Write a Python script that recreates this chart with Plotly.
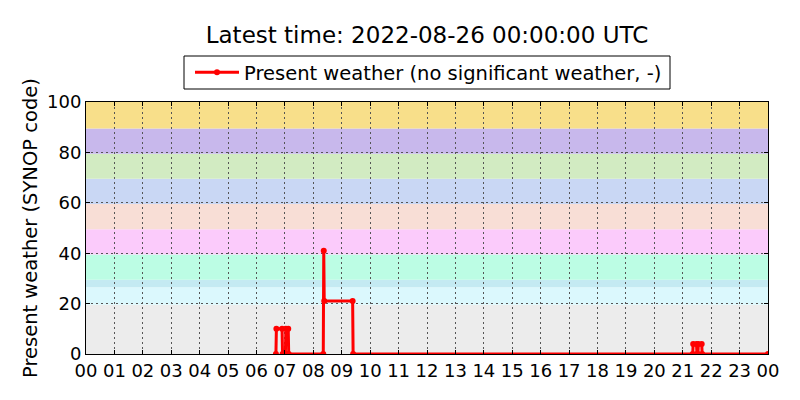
import plotly.graph_objects as go

# ---- data ----
times = [
    "2022-08-25 06:41", "2022-08-25 06:42", "2022-08-25 06:54", "2022-08-25 06:55",
    "2022-08-25 07:01", "2022-08-25 07:02", "2022-08-25 07:07", "2022-08-25 07:08",
    "2022-08-25 08:21", "2022-08-25 08:22", "2022-08-25 08:23", "2022-08-25 09:23",
    "2022-08-25 09:24", "2022-08-25 21:21", "2022-08-25 21:22", "2022-08-25 21:29",
    "2022-08-25 21:30", "2022-08-25 21:32", "2022-08-25 21:33", "2022-08-25 21:40",
    "2022-08-25 21:41", "2022-08-26 00:00",
]
present_weather = [
    0, 10, 10, 0,
    0, 10, 10, 0,
    0, 41, 21, 21,
    0, 0, 4, 4,
    0, 0, 4, 4,
    0, 0,
]

band_lower = [0, 19.5, 26.5, 29.5, 39.5, 49.5, 59.5, 69.5, 79.5, 89.5]
band_upper = [19.5, 26.5, 29.5, 39.5, 49.5, 59.5, 69.5, 79.5, 89.5, 100]
band_colors = ["#ececec", "#dbf8fd", "#c4eaf2", "#bcfde4", "#fbcbfb",
               "#f8ded6", "#c9d7f4", "#d2ebc2", "#c8b8ec", "#f8df8a"]

hour_ticks = [f"2022-08-25 {h:02d}:00" for h in range(24)] + ["2022-08-26 00:00"]
hour_labels = [f"{h:02d}" for h in range(24)] + ["00"]

title_text = "Latest time: 2022-08-26 00:00:00 UTC"
series_name = "Present weather (no significant weather, -)"
y_title = "Present weather (SYNOP code)"

# ---- figure ----
FONT = "DejaVu Sans"
L, R, T, B = 86, 32, 102, 46
W, H = 800, 400
PW = W - L - R
PH = H - T - B


def px_x(px):
    return (px - L) / PW


def px_y(py):
    return (H - B - py) / PH


fig = go.Figure()
fig.add_trace(go.Scatter(
    x=times, y=present_weather, mode="lines+markers", name=series_name,
    line=dict(color="#ff0000", width=3),
    marker=dict(color="#ff0000", size=6),
))

for lo, hi, c in zip(band_lower, band_upper, band_colors):
    fig.add_shape(type="rect", xref="paper", x0=0, x1=1, yref="y", y0=lo, y1=hi,
                  fillcolor=c, line=dict(width=0), layer="below")

# legend frame
fig.add_shape(type="rect", xref="paper", yref="paper",
              x0=px_x(184), x1=px_x(670), y0=px_y(89), y1=px_y(56),
              line=dict(color="black", width=1), fillcolor="rgba(0,0,0,0)")

fig.add_annotation(text=y_title, textangle=-90, xref="paper", yref="paper",
                   x=px_x(30), y=0.5, xanchor="center", yanchor="middle",
                   showarrow=False, font=dict(size=19.5))

fig.update_layout(
    width=W, height=H,
    margin=dict(l=L, r=R, t=T, b=B, autoexpand=False),
    paper_bgcolor="white", plot_bgcolor="white",
    font=dict(family=FONT, size=18, color="black"),
    title=dict(text=title_text, x=0.5, xanchor="center", xref="paper",
               y=1 - 35 / H, yanchor="middle", yref="container",
               font=dict(size=23)),
    showlegend=True,
    legend=dict(orientation="h", x=px_x(190), xanchor="left", xref="paper",
                y=1 - 72.5 / H, yanchor="middle", yref="container",
                borderwidth=0, bgcolor="rgba(0,0,0,0)", itemwidth=44,
                font=dict(size=19.5)),
)
fig.update_xaxes(
    type="date", range=["2022-08-25 00:00", "2022-08-26 00:00"],
    tickvals=hour_ticks, ticktext=hour_labels, automargin=False,
    showline=True, mirror="ticks", linecolor="black", linewidth=1,
    ticks="inside", ticklen=4, tickcolor="black",
    showgrid=True, gridcolor="#555555", griddash="2px,3px", gridwidth=1,
    zeroline=False, tickfont=dict(size=18),
)
fig.update_yaxes(
    range=[0, 100], tickvals=[0, 20, 40, 60, 80, 100], automargin=False,
    showline=True, mirror="ticks", linecolor="black", linewidth=1,
    ticks="inside", ticklen=4, tickcolor="black",
    showgrid=True, gridcolor="#555555", griddash="2px,3px", gridwidth=1,
    zeroline=False, tickfont=dict(size=18),
)

fig.write_html("out.html", config={"displayModeBar": False},
               post_script="document.body.style.margin='0';")
